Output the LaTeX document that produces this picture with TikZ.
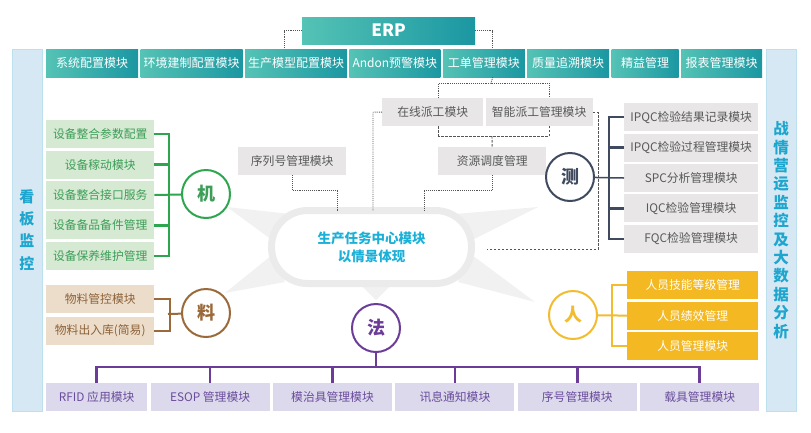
\documentclass[tikz,border=0pt]{standalone}
\usepackage{fontspec}
\setmainfont{Noto Sans CJK SC}
\usepackage{xcolor}
\usetikzlibrary{positioning}

\definecolor{tealL}{HTML}{55C3B5}
\definecolor{tealR}{HTML}{1B97A2}
\definecolor{sideFill}{HTML}{D5E8F3}
\definecolor{sideLine}{HTML}{BDE0EF}
\definecolor{sideText}{HTML}{1FA6CE}
\definecolor{jiFill}{HTML}{D6E9D2}
\definecolor{jiText}{HTML}{3C9E58}
\definecolor{jiLine}{HTML}{2EA54F}
\definecolor{liaoFill}{HTML}{ECDCCA}
\definecolor{liaoText}{HTML}{8C6239}
\definecolor{liaoLine}{HTML}{9A6A3A}
\definecolor{faFill}{HTML}{DCD9EC}
\definecolor{faText}{HTML}{6A4C9C}
\definecolor{faLine}{HTML}{6B3D98}
\definecolor{ceFill}{HTML}{E8E6E6}
\definecolor{ceText}{HTML}{595959}
\definecolor{ceLine}{HTML}{3F4A5F}
\definecolor{renFill}{HTML}{F4B922}
\definecolor{renLine}{HTML}{F3BC2E}
\definecolor{ringGray}{HTML}{EBEBEB}
\definecolor{spikeGray}{HTML}{F1F1F1}
\definecolor{hubText}{HTML}{1BB0D7}
\definecolor{dotGray}{HTML}{555555}

\begin{document}
\begin{tikzpicture}
[
x=1pt, y=-1pt,
node distance=2pt,
every node/.style={
	inner sep=0pt,
	minimum height=28pt,
	font=\fontsize{11.8}{14}\selectfont},
topMod/.style={
	left color=tealL,
	right color=tealR,
	text=white,
	font=\fontsize{12}{14}\selectfont},
sideBar/.style={
	fill=sideFill,
	draw=sideLine,
	line width=1pt,
	minimum width=30pt,
	minimum height=362pt,
	text=sideText,
	align=center},
jiBox/.style={
	fill=jiFill,
	text=jiText,
	minimum width=108pt},
liaoBox/.style={
	fill=liaoFill,
	text=liaoText,
	minimum width=108pt},
faBox/.style={
	fill=faFill,
	text=faText,
	minimum width=119pt},
ceBox/.style={
	fill=ceFill,
	text=ceText,
	minimum width=134pt},
renBox/.style={
	fill=renFill,
	text=white,
	minimum width=131pt},
midBox/.style={
	fill=ceFill,
	text=ceText,
	minimum width=108pt},
hubCirc/.style={
	circle,
	draw,
	fill=white,
	line width=2pt,
	minimum size=48pt,
	font=\fontsize{18}{18}\selectfont\bfseries},
hubCloud/.style={
	draw=ringGray,
	fill=white,
	line width=7pt,
	rounded corners=36pt,
	minimum width=200pt,
	minimum height=73pt,
	text=hubText,
	align=center,
	font=\fontsize{13.5}{18}\selectfont\bfseries},
dotLine/.style={
	dotGray,
	densely dotted,
	line width=0.9pt},
dashLine/.style={
	dotGray,
	dash pattern=on 2.5pt off 1.5pt,
	line width=0.9pt},
jiLn/.style={jiLine, line width=2pt},
liaoLn/.style={liaoLine, line width=2pt},
faLn/.style={faLine, line width=2.5pt},
ceLn/.style={ceLine, line width=2pt},
renLn/.style={renLine, line width=2pt}
]
\useasboundingbox (0,0) rectangle (811,432);

%spikes round the hub
\fill[spikeGray] (227,207) -- (290,214) -- (272,240) -- cycle;
\fill[spikeGray] (225,293) -- (272,255) -- (285,282) -- cycle;
\fill[spikeGray] (538,207) -- (455,214) -- (472,240) -- cycle;
\fill[spikeGray] (535,302) -- (472,255) -- (458,282) -- cycle;
\fill[spikeGray] (376,300) -- (360,284) -- (392,284) -- cycle;

\node[hubCloud] (hub) at (371.5,247) {生产任务中心模块\\以情景体现};

%side bars
\node[sideBar, font=\fontsize{15}{22.3}\selectfont\bfseries] (kb) at (27,230) {看\\板\\监\\控};
\node[sideBar, font=\fontsize{15.5}{18.4}\selectfont\bfseries] (zq) at (781,230) {战\\情\\营\\运\\监\\控\\及\\大\\数\\据\\分\\析};

%ERP and top row
\node[topMod, minimum width=173pt, minimum height=27pt, font=\fontsize{17}{17}\selectfont\bfseries] (erp) at (388.5,30.5) {ERP};
\node[topMod, minimum width=92pt, anchor=west] (m1) at (46,63) {系统配置模块};
\node[topMod, minimum width=102pt, right=of m1] (m2) {环境建制配置模块};
\node[topMod, minimum width=102pt, right=of m2] (m3) {生产模型配置模块};
\node[topMod, minimum width=91pt, right=of m3] (m4) {Andon预警模块};
\node[topMod, minimum width=82pt, right=of m4] (m5) {工单管理模块};
\node[topMod, minimum width=82pt, right=of m5] (m6) {质量追溯模块};
\node[topMod, minimum width=67pt, right=of m6] (m7) {精益管理};
\node[topMod, minimum width=81pt, right=of m7] (m8) {报表管理模块};

%middle boxes
\node[midBox, minimum width=101pt, anchor=north west] (zx) at (382,98) {在线派工模块};
\node[midBox, minimum width=107pt, right=of zx] (zn) {智能派工管理模块};
\node[midBox, anchor=north west] (zy) at (438,147) {资源调度管理};
\node[midBox, anchor=north west] (xl) at (238,147) {序列号管理模块};

%ji column
\node[jiBox, anchor=north west] (jb1) at (46,120) {设备整合参数配置};
\node[jiBox, below=of jb1] (jb2) {设备稼动模块};
\node[jiBox, below=of jb2] (jb3) {设备整合接口服务};
\node[jiBox, below=of jb3] (jb4) {设备备品备件管理};
\node[jiBox, below=of jb4] (jb5) {设备保养维护管理};

%liao column
\node[liaoBox, anchor=north west] (lb1) at (46,285) {物料管控模块};
\node[liaoBox, below=3pt of lb1] (lb2) {物料出入库(简易)};

%ce column
\node[ceBox, anchor=north west] (cb1) at (624,103) {IPQC检验结果记录模块};
\node[ceBox, below=of cb1] (cb2) {IPQC检验过程管理模块};
\node[ceBox, below=of cb2] (cb3) {SPC分析管理模块};
\node[ceBox, below=of cb3] (cb4) {IQC检验管理模块};
\node[ceBox, below=of cb4] (cb5) {FQC检验管理模块};

%ren column
\node[renBox, anchor=north west] (rb1) at (627,271) {人员技能等级管理};
\node[renBox, below=of rb1] (rb2) {人员绩效管理};
\node[renBox, below=of rb2] (rb3) {人员管理模块};

%fa row
\node[faBox, minimum width=101pt, anchor=north west] (fb1) at (46,383) {RFID 应用模块};
\node[faBox, right=3pt of fb1] (fb2) {ESOP 管理模块};
\node[faBox, right=3pt of fb2] (fb3) {模治具管理模块};
\node[faBox, right=3pt of fb3] (fb4) {讯息通知模块};
\node[faBox, right=3pt of fb4] (fb5) {序号管理模块};
\node[faBox, right=3pt of fb5] (fb6) {载具管理模块};

%circles
\node[hubCirc, draw=jiLine, text=jiText] (ji) at (206,194) {机};
\node[hubCirc, draw=liaoLine, text=liaoLine] (li) at (206,313) {料};
\node[hubCirc, draw=faLine, text=faLine] (fa) at (376,328) {法};
\node[hubCirc, draw=ceLine, text=ceLine] (ce) at (570,177) {测};
\node[hubCirc, draw=renLine, text=renLine] (re) at (573,315) {人};

%ERP links
\draw[dotLine] (erp.west) -| ([xshift=-12pt]m3.north);
\draw[dotLine] (erp.east) -| ([xshift=9pt]m5.north);

%work order links
\coordinate (wo) at (491,83);
\draw[dotLine] ([xshift=9pt]m5.south) -- (wo);
\draw[dotLine] ([xshift=6pt]zx.north) |- (wo) -| ([xshift=10pt]zn.north);
\coordinate (wd) at (492,136);
\draw[dashLine] ([xshift=6pt]zx.south) |- (wd) -| ([xshift=10pt]zn.south);
\draw[dashLine] (wd) -- (zy.north);

%links into the hub
\coordinate (zyd) at (424,190);
\draw[dotLine] (zy.south) |- (zyd) -- ([yshift=-3.5pt]zyd |- hub.north);
\coordinate (xld) at (337,190);
\draw[dotLine] (xl.south) |- (xld) -- ([yshift=-3.5pt]xld |- hub.north);
\coordinate (zxl) at (373,112);
\draw[dotLine] (zx.west) -- (zxl) -- ([yshift=-3.5pt]zxl |- hub.north);
\coordinate (znr) at (598,249);
\coordinate (hubr) at (487,249);
\draw[dashLine] (zn.east) -| (znr) -- (hubr);

%ji group
\coordinate (jbus) at (169,194);
\draw[jiLn] (jb1.east) -| (jbus) |- (jb5.east);
\draw[jiLn, line width=3pt] (jb2.east) -- (jb2.east -| jbus);
\draw[jiLn] (jb3.east) -- (ji);
\draw[jiLn, line width=3pt] (jb4.east) -- (jb4.east -| jbus);

%liao group
\coordinate (lbus) at (170,314);
\draw[liaoLn] (lb1.east) -| (lbus) |- (lb2.east);
\draw[liaoLn] ([xshift=-2pt]lbus) -- (li);

%fa group
\coordinate (fbus) at (376,367);
\draw[faLn] (fa) -- (fbus);
\draw[faLn] (fb1.north) |- (fbus) -| (fb6.north);
\draw[faLn] (fb2.north) -- (fb2.north |- fbus);
\draw[faLn, line width=3pt] (fb3.north) -- (fb3.north |- fbus);
\draw[faLn] (fb4.north) -- (fb4.north |- fbus);
\draw[faLn] (fb5.north) -- (fb5.north |- fbus);

%ce group
\coordinate (cbus) at (609,177);
\draw[ceLn] (cb1.west) -| (cbus) |- (cb5.west);
\draw[ceLn, line width=2.5pt] (cb2.west) -- (cb2.west -| cbus);
\draw[ceLn, line width=2.5pt] (cb4.west) -- (cb4.west -| cbus);
\draw[ceLn, line width=1.5pt] (ce) -- (cb3.west);

%ren group
\coordinate (rbus) at (612,315);
\draw[renLn] (rb1.west) -| (rbus) |- (rb3.west);
\draw[renLn] (re) -- (rb2.west);

\end{tikzpicture}
\end{document}
